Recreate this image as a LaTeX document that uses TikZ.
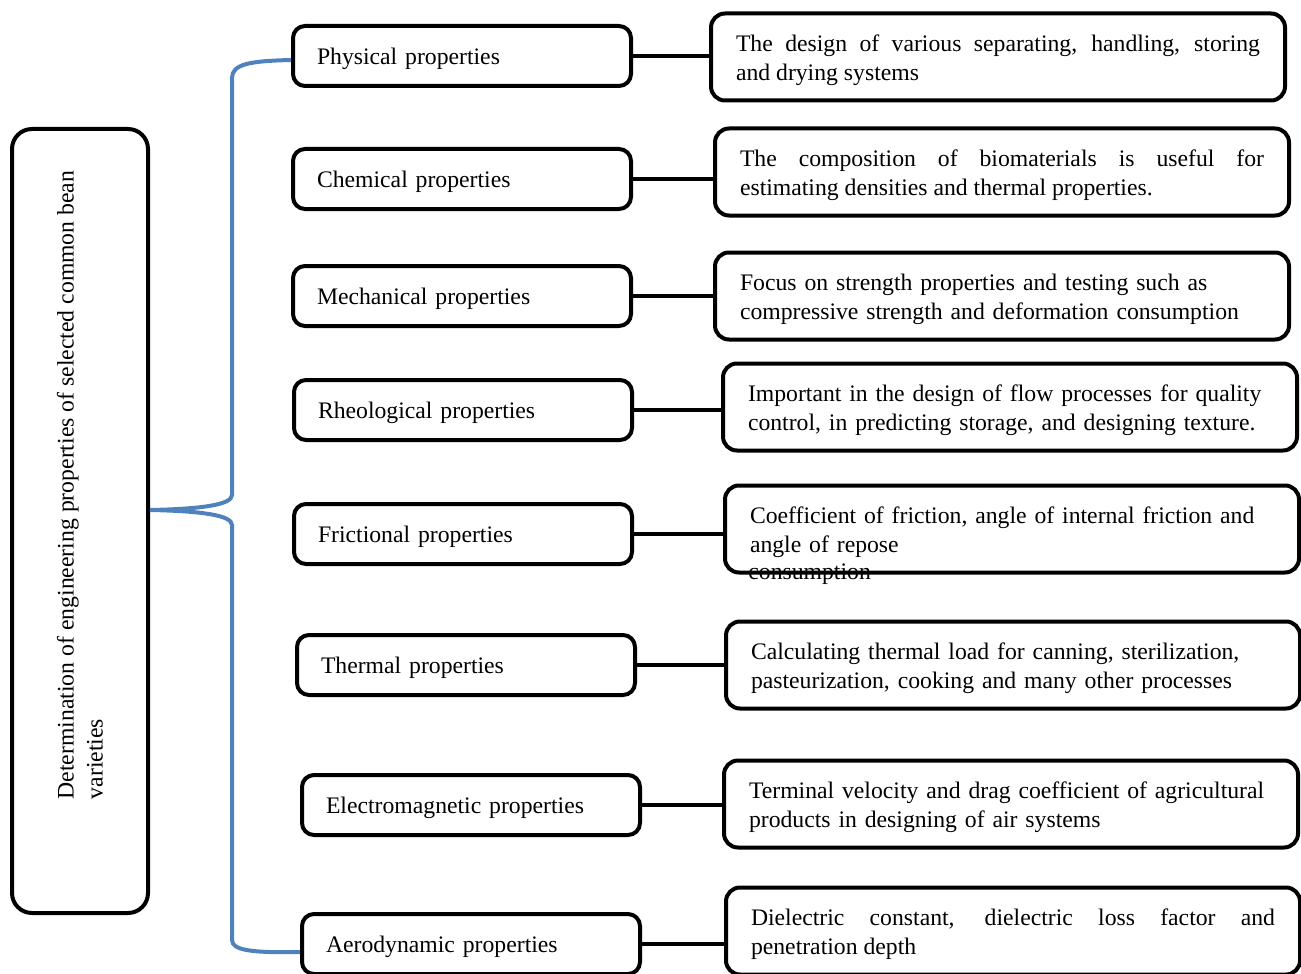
\documentclass[tikz,border=0pt]{standalone}
\usepackage{fontspec}
\setmainfont{Liberation Serif}
\usepackage{tikz}
\usetikzlibrary{positioning}
\definecolor{BraceBlue}{HTML}{4F81BD}

\begin{document}
\begin{tikzpicture}[
  x=0.5pt, y=-0.5pt,
  every node/.style={font=\fontsize{11.85pt}{14.5pt}\selectfont},
  goal/.style={draw=black, line width=2pt, rounded corners=10pt, minimum width=68pt, minimum height=392pt},
  prop/.style={draw=black, line width=2pt, rounded corners=6pt, text width=145pt, inner xsep=12pt, minimum height=30pt, align=left, execute at begin node={\rule{0pt}{11.5pt}}},
  note/.style={draw=black, line width=2pt, rounded corners=7pt, text width=262pt, inner xsep=12.5pt, minimum height=43.5pt, align=left, execute at begin node={\rule{0pt}{11.5pt}}},
  link/.style={line width=2pt, draw=black},
  brace/.style={line width=2pt, draw=BraceBlue}
]
\useasboundingbox (0,0) rectangle (1301,974);

\node[goal] (goal) at (80,521) {};
\node[rotate=90, align=left] (goaltext) at (80,485) {Determination of engineering properties of selected common bean\\varieties};

\node[prop] (phys) at (462,56) {Physical properties};
\node[prop] (chem) at (462,179) {Chemical properties};
\node[prop] (mech) at (462,296) {Mechanical properties};
\node[prop] (rheo) at (463,410) {Rheological properties};
\node[prop] (fric) at (463,534) {Frictional properties};
\node[prop] (therm) at (466,665) {Thermal properties};
\node[prop] (elec) at (471,805) {Electromagnetic properties};
\node[prop] (aero) at (471,944) {Aerodynamic properties};

\node[note, align=justify] (physnote) at (998,57) {The design of various separating, handling, storing\linebreak and drying systems};
\node[note, align=justify] (chemnote) at (1002,172) {The composition of biomaterials is useful for\linebreak estimating densities and thermal properties.};
\node[note] (mechnote) at (1002,296) {Focus on strength properties and testing such as\\compressive strength and deformation consumption};
\node[note] (rheonote) at (1010,407) {Important in the design of flow processes for quality\\control, in predicting storage, and designing texture.};
\node[note] (fricnote) at (1012,529) {Coefficient of friction, angle of internal friction and\\angle of repose};
\node[anchor=base west, inner sep=0pt] (fricextra) at ([xshift=12.5pt, yshift=-2.5pt]fricnote.south west) {consumption};
\node[note] (thermnote) at (1013,665) {Calculating thermal load for canning, sterilization,\\pasteurization, cooking and many other processes};
\node[note] (elecnote) at (1011,804) {Terminal velocity and drag coefficient of agricultural\\products in designing of air systems};
\node[note, align=justify] (aeronote) at (1013,931) {Dielectric constant, dielectric loss factor and\linebreak penetration depth};

% brace from the goal box to the property boxes
\coordinate (tip) at (150,510);
\draw[brace] ([yshift=-2pt]phys.west) .. controls (250,61) and (232,64) .. (232,78) -- (232,495) .. controls (232,505) and (200,509) .. (tip);
\draw[brace] (tip) .. controls (200,511) and (232,515) .. (232,525) -- (232,940) .. controls (232,950) and (250,953) .. ([yshift=-4pt]aero.west);

\draw[link] (phys.east) -- (phys.east -| physnote.west);
\draw[link] (chem.east) -- (chem.east -| chemnote.west);
\draw[link] (mech.east) -- (mech.east -| mechnote.west);
\draw[link] (rheo.east) -- (rheo.east -| rheonote.west);
\draw[link] (fric.east) -- (fric.east -| fricnote.west);
\draw[link] (therm.east) -- (therm.east -| thermnote.west);
\draw[link] (elec.east) -- (elec.east -| elecnote.west);
\draw[link] (aero.east) -- (aero.east -| aeronote.west);
\end{tikzpicture}
\end{document}
